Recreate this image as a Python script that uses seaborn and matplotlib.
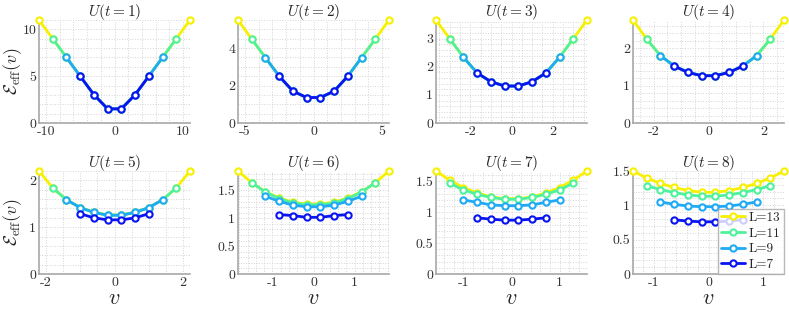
import numpy as np
import pandas as pd
import matplotlib
matplotlib.use("Agg")
import matplotlib.pyplot as plt
from matplotlib.ticker import AutoMinorLocator
import seaborn as sns

# system sizes and colours
sizes = [13, 11, 9, 7]
colors = {13: "#f7f000", 11: "#4ff29c", 9: "#1eaaf5", 7: "#0a14f0"}
times = [1, 2, 3, 4, 5, 6, 7, 8]

# E_eff(v) for v = (2j - L)/t, j = 1..L-1 (symmetric in v)
# each list holds the values for |v| from the outside in (half of the curve)
half_vals = {
    1: {13: [11.0, 9.0, 7.0, 5.0, 3.02, 1.51],
        11: [9.0, 7.0, 5.0, 3.02, 1.51],
        9: [7.0, 5.0, 3.02, 1.51],
        7: [5.0, 3.02, 1.51]},
    2: {13: [5.5, 4.48, 3.49, 2.5, 1.70, 1.36],
        11: [4.48, 3.49, 2.5, 1.70, 1.36],
        9: [3.49, 2.5, 1.70, 1.36],
        7: [2.5, 1.70, 1.36]},
    3: {13: [3.667, 3.0, 2.34, 1.78, 1.47, 1.317],
        11: [3.0, 2.34, 1.78, 1.47, 1.317],
        9: [2.34, 1.78, 1.47, 1.317],
        7: [1.78, 1.47, 1.315]},
    4: {13: [2.75, 2.24, 1.796, 1.522, 1.354, 1.265],
        11: [2.24, 1.796, 1.522, 1.354, 1.265],
        9: [1.796, 1.522, 1.354, 1.265],
        7: [1.52, 1.35, 1.262]},
    5: {13: [2.2, 1.84, 1.585, 1.42, 1.318, 1.26],
        11: [1.84, 1.585, 1.42, 1.316, 1.258],
        9: [1.585, 1.418, 1.314, 1.256],
        7: [1.287, 1.20, 1.156]},
    6: {13: [1.85, 1.64, 1.475, 1.366, 1.29, 1.256],
        11: [1.64, 1.47, 1.355, 1.275, 1.245],
        9: [1.396, 1.305, 1.238, 1.207],
        7: [1.067, 1.049, 1.018]},
    7: {13: [1.668, 1.52, 1.40, 1.313, 1.248, 1.22],
        11: [1.47, 1.362, 1.29, 1.24, 1.21],
        9: [1.20, 1.16, 1.12, 1.106],
        7: [0.91, 0.888, 0.872]},
    8: {13: [1.5, 1.397, 1.319, 1.26, 1.216, 1.19],
        11: [1.284, 1.23, 1.186, 1.152, 1.132],
        9: [1.049, 1.015, 0.99, 0.98],
        7: [0.79, 0.77, 0.76]},
}

xticks = {1: [-10, 0, 10], 2: [-5, 0, 5], 3: [-2, 0, 2], 4: [-2, 0, 2],
          5: [-2, 0, 2], 6: [-1, 0, 1], 7: [-1, 0, 1], 8: [-1, 0, 1]}
yticks = {1: [0, 5, 10], 2: [0, 2, 4], 3: [0, 1, 2, 3], 4: [0, 1, 2],
          5: [0, 1, 2], 6: [0, 0.5, 1, 1.5], 7: [0, 0.5, 1, 1.5], 8: [0, 0.5, 1, 1.5]}


def build_frame(t):
    rows = []
    for L in sizes:
        half = half_vals[t][L]
        vals = half + half[::-1]
        vs = [(2 * j - L) / t for j in range(1, L)]
        for v, e in zip(vs, vals):
            rows.append({"v": v, "E": e, "L": L})
    return pd.DataFrame(rows)


sns.set_style("white")
plt.rcParams["font.family"] = "serif"
plt.rcParams["font.serif"] = ["cmr10", "DejaVu Serif"]
plt.rcParams["mathtext.fontset"] = "cm"
plt.rcParams["axes.formatter.use_mathtext"] = True

fig = plt.figure(figsize=(7.89, 3.12), dpi=100)

lefts = [39, 238, 436, 633]
W, H = 789.0, 312.0
axw, axh = 151, 103
bottoms = [312 - 123, 312 - 274]

for i, t in enumerate(times):
    r, c = divmod(i, 4)
    ax = fig.add_axes([lefts[c] / W, bottoms[r] / H, axw / W, axh / H])
    df = build_frame(t)
    sns.lineplot(data=df, x="v", y="E", hue="L", hue_order=sizes,
                 palette=colors, sort=False, estimator=None, legend=False,
                 marker="o", markersize=4.5, markerfacecolor="white",
                 markeredgewidth=1.5, linewidth=2, ax=ax, zorder=3,
                 clip_on=False)
    for ln in ax.lines:
        ln.set_markeredgecolor(ln.get_color())
    vmax = (sizes[0] - 2) / t
    ax.set_xlim(-vmax, vmax)
    ax.set_ylim(0, half_vals[t][13][0])
    ax.set_xticks(xticks[t])
    ax.set_yticks(yticks[t])
    ax.set_xticklabels([f"{x:g}" for x in xticks[t]])
    ax.set_yticklabels([f"{y:g}" for y in yticks[t]])
    ax.xaxis.set_minor_locator(AutoMinorLocator())
    ax.yaxis.set_minor_locator(AutoMinorLocator())
    ax.grid(True, which="both", linestyle=":", color="#d4d4d4", linewidth=0.7)
    for s in ["top", "right"]:
        ax.spines[s].set_visible(False)
    for s in ["left", "bottom"]:
        ax.spines[s].set_color("#a8a8a8")
        ax.spines[s].set_linewidth(1.2)
    ax.tick_params(axis="both", which="major", labelsize=10, length=0, pad=2,
                   colors="#333333")
    ax.tick_params(axis="both", which="minor", length=0)
    ax.set_title(f"$U(t={t})$", fontsize=11, pad=3)
    ax.set_xlabel("$v$" if r == 1 else "", fontsize=16, labelpad=0)
    if c == 0:
        ax.set_ylabel(r"$\mathcal{E}_{\rm eff}(v)$", fontsize=13)
        ax.yaxis.set_label_coords(-0.1, 0.5)
    else:
        ax.set_ylabel("")
    if t == 8:
        leg = ax.legend(ax.lines[:4], [f"L={L}" for L in sizes],
                        loc="lower right", fontsize=9.5, frameon=True,
                        fancybox=False, borderpad=0.25, labelspacing=0.25,
                        handlelength=1.8, handletextpad=0.3,
                        borderaxespad=0.0)
        leg.get_frame().set_edgecolor("#a8a8a8")
        leg.get_frame().set_linewidth(1.0)
        leg.set_zorder(5)

fig.savefig("out.png", dpi=100)
